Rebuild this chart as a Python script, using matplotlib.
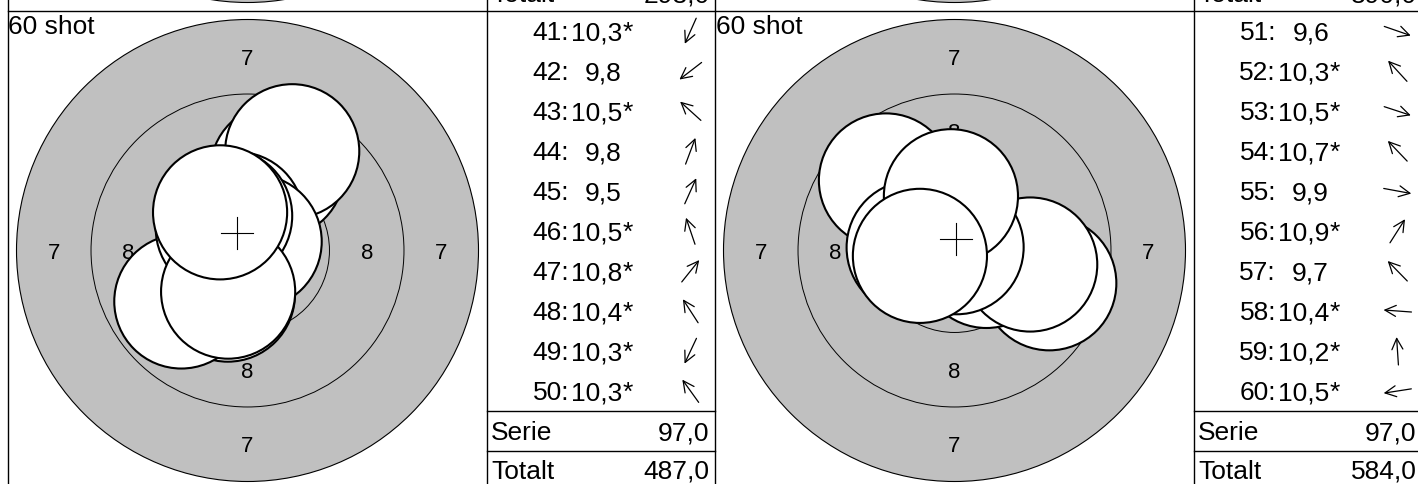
import matplotlib
matplotlib.use("Agg")
import matplotlib.pyplot as plt
from matplotlib.patches import Circle
import numpy as np

plt.rcParams['font.family'] = ['Liberation Sans', 'DejaVu Sans']

# ---------------- data ----------------
panel_title = "60 shot"

shot_no_a = [41, 42, 43, 44, 45, 46, 47, 48, 49, 50]
score_a = [10.3, 9.8, 10.5, 9.8, 9.5, 10.5, 10.8, 10.4, 10.3, 10.3]
hit_x_a = [-0.66, -2.22, -0.83, 1.00, 1.50, -0.36, 0.24, -0.75, -0.65, -0.92]   # mm
hit_y_a = [-1.48, -1.71, 0.75, 2.67, 3.33, 1.06, 0.30, 1.16, -1.38, 1.28]      # mm
serie_a = 97.0
total_a = 487.0

shot_no_b = [51, 52, 53, 54, 55, 56, 57, 58, 59, 60]
score_b = [9.6, 10.3, 10.5, 10.7, 9.9, 10.9, 9.7, 10.4, 10.2, 10.5]
hit_x_b = [3.18, -1.10, 1.07, -0.43, 2.54, 0.07, -2.30, -1.37, -0.12, -1.16]
hit_y_b = [-1.10, 1.20, -0.35, 0.45, -0.47, 0.11, 2.35, 0.10, 1.82, -0.18]
serie_b = 97.0
total_b = 584.0

prev_total_a = 293.0
prev_total_b = 390.0

ring_numbers = [7, 8, 9, 10]
ring_radius_mm = [7.75, 5.25, 2.75, 0.25]
pellet_radius_mm = 2.25

# ---------------- layout (pixels) ----------------
W, H = 1418, 484
DPI = 100
TOP = 11
PANEL = 479
TABLE_W = 228
COL_X = [8, 715]
ROW_H = 40
SCALE = 231.0 / ring_radius_mm[0]   # px per mm
GREY = '#c0c0c0'
FS = 19
FS_RING = 16

fig = plt.figure(figsize=(W / DPI, H / DPI), dpi=DPI)


def px_axes(x, y, w, h, z=0):
    ax = fig.add_axes([x / W, 1 - (y + h) / H, w / W, h / H], zorder=z)
    ax.axis('off')
    return ax


def fmt(v):
    return f"{v:.1f}".replace('.', ',')


def draw_target(ax, xs=None, ys=None, labels=True):
    half = PANEL / 2 / SCALE
    ax.set_xlim(-half, half)
    ax.set_ylim(-half, half)
    ax.add_patch(Circle((0, 0), ring_radius_mm[0], fc=GREY, ec='black', lw=0.8, zorder=1))
    for r in ring_radius_mm[1:]:
        ax.add_patch(Circle((0, 0), r, fill=False, ec='black', lw=0.7, zorder=2))
    if labels:
        dh = 0.27
        for i in range(2):
            mid = (ring_radius_mm[i] + ring_radius_mm[i + 1]) / 2
            lab = str(ring_numbers[i])
            for (tx, ty) in [(0, mid), (0, -mid), (-mid, 0), (mid, 0)]:
                ax.text(tx, ty - dh, lab, ha='center', va='baseline', fontsize=FS_RING, zorder=3)
    if xs is None:
        return
    for x, y in zip(xs, ys):
        ax.add_patch(Circle((x, y), pellet_radius_mm, fc='white', ec='black', lw=1.5, zorder=4))
    mx, my = np.mean(xs), np.mean(ys)
    c = 16 / SCALE
    ax.plot([mx - c, mx + c], [my, my], color='black', lw=0.8, zorder=5)
    ax.plot([mx, mx], [my - c, my + c], color='black', lw=0.8, zorder=5)


# previous row (only its bottom edge is visible)
for cx in COL_X:
    draw_target(px_axes(cx, TOP - PANEL, PANEL, PANEL), labels=False)

# current row targets
tgt_a = px_axes(COL_X[0], TOP, PANEL, PANEL)
draw_target(tgt_a, hit_x_a, hit_y_a)
tgt_b = px_axes(COL_X[1], TOP, PANEL, PANEL)
draw_target(tgt_b, hit_x_b, hit_y_b)

# overlay in pixel coordinates for tables and lines
ov = fig.add_axes([0, 0, 1, 1], zorder=10)
ov.set_xlim(0, W)
ov.set_ylim(H, 0)
ov.axis('off')

series = [
    (shot_no_a, score_a, hit_x_a, hit_y_a, serie_a, total_a, prev_total_a),
    (shot_no_b, score_b, hit_x_b, hit_y_b, serie_b, total_b, prev_total_b),
]

ARROW_L = 28
for cx, (nums, scores, xs, ys, ser, tot, ptot) in zip(COL_X, series):
    tx = cx + PANEL
    # panel title
    ov.text(cx + 0.5, 34, panel_title, ha='left', va='baseline', fontsize=FS)
    # shots
    for i, (n, s, x, y) in enumerate(zip(nums, scores, xs, ys)):
        base = TOP + ROW_H * i + 29
        ov.text(tx + 82, base, f"{n}:", ha='right', va='baseline', fontsize=FS)
        ov.text(tx + 135, base, fmt(s), ha='right', va='baseline', fontsize=FS)
        if s >= 10.0:
            ov.text(tx + 135.5, base, "*", ha='left', va='baseline', fontsize=FS)
        ang = np.arctan2(y, x)
        acx = tx + 203.5
        acy = TOP + ROW_H * i + ROW_H / 2
        ddx, ddy = np.cos(ang) * ARROW_L / 2, -np.sin(ang) * ARROW_L / 2
        ov.annotate('', xy=(acx + ddx, acy + ddy), xytext=(acx - ddx, acy - ddy),
                    arrowprops=dict(arrowstyle='->,head_length=0.66,head_width=0.33',
                                    lw=0.9, color='black', shrinkA=0, shrinkB=0,
                                    mutation_scale=12))
    y_line1 = TOP + ROW_H * len(nums)
    y_line2 = y_line1 + ROW_H
    ov.text(tx + 4, y_line1 + 29.5, "Serie", ha='left', va='baseline', fontsize=FS)
    ov.text(tx + 222.5, y_line1 + 29.5, fmt(ser), ha='right', va='baseline', fontsize=FS)
    ov.text(tx + 4, y_line2 + 28, "Totalt", ha='left', va='baseline', fontsize=FS)
    ov.text(tx + 222.5, y_line2 + 28, fmt(tot), ha='right', va='baseline', fontsize=FS)
    # previous row totals (mostly cut off by the top edge, as in the source)
    ov.text(tx + 4, TOP - 8.5, "Totalt", ha='left', va='baseline', fontsize=FS)
    ov.text(tx + 222.5, TOP - 8.5, fmt(ptot), ha='right', va='baseline', fontsize=FS)
    # table lines
    ov.plot([tx, tx + TABLE_W], [y_line1, y_line1], color='black', lw=1.0)
    ov.plot([tx, tx + TABLE_W], [y_line2, y_line2], color='black', lw=1.0)

# grid lines
ov.plot([COL_X[0], W], [TOP, TOP], color='black', lw=1.0)
for vx in [COL_X[0], COL_X[0] + PANEL, COL_X[1], COL_X[1] + PANEL, COL_X[1] + PANEL + TABLE_W]:
    ov.plot([vx, vx], [0, H], color='black', lw=1.0)

fig.savefig("out.png", dpi=DPI)
